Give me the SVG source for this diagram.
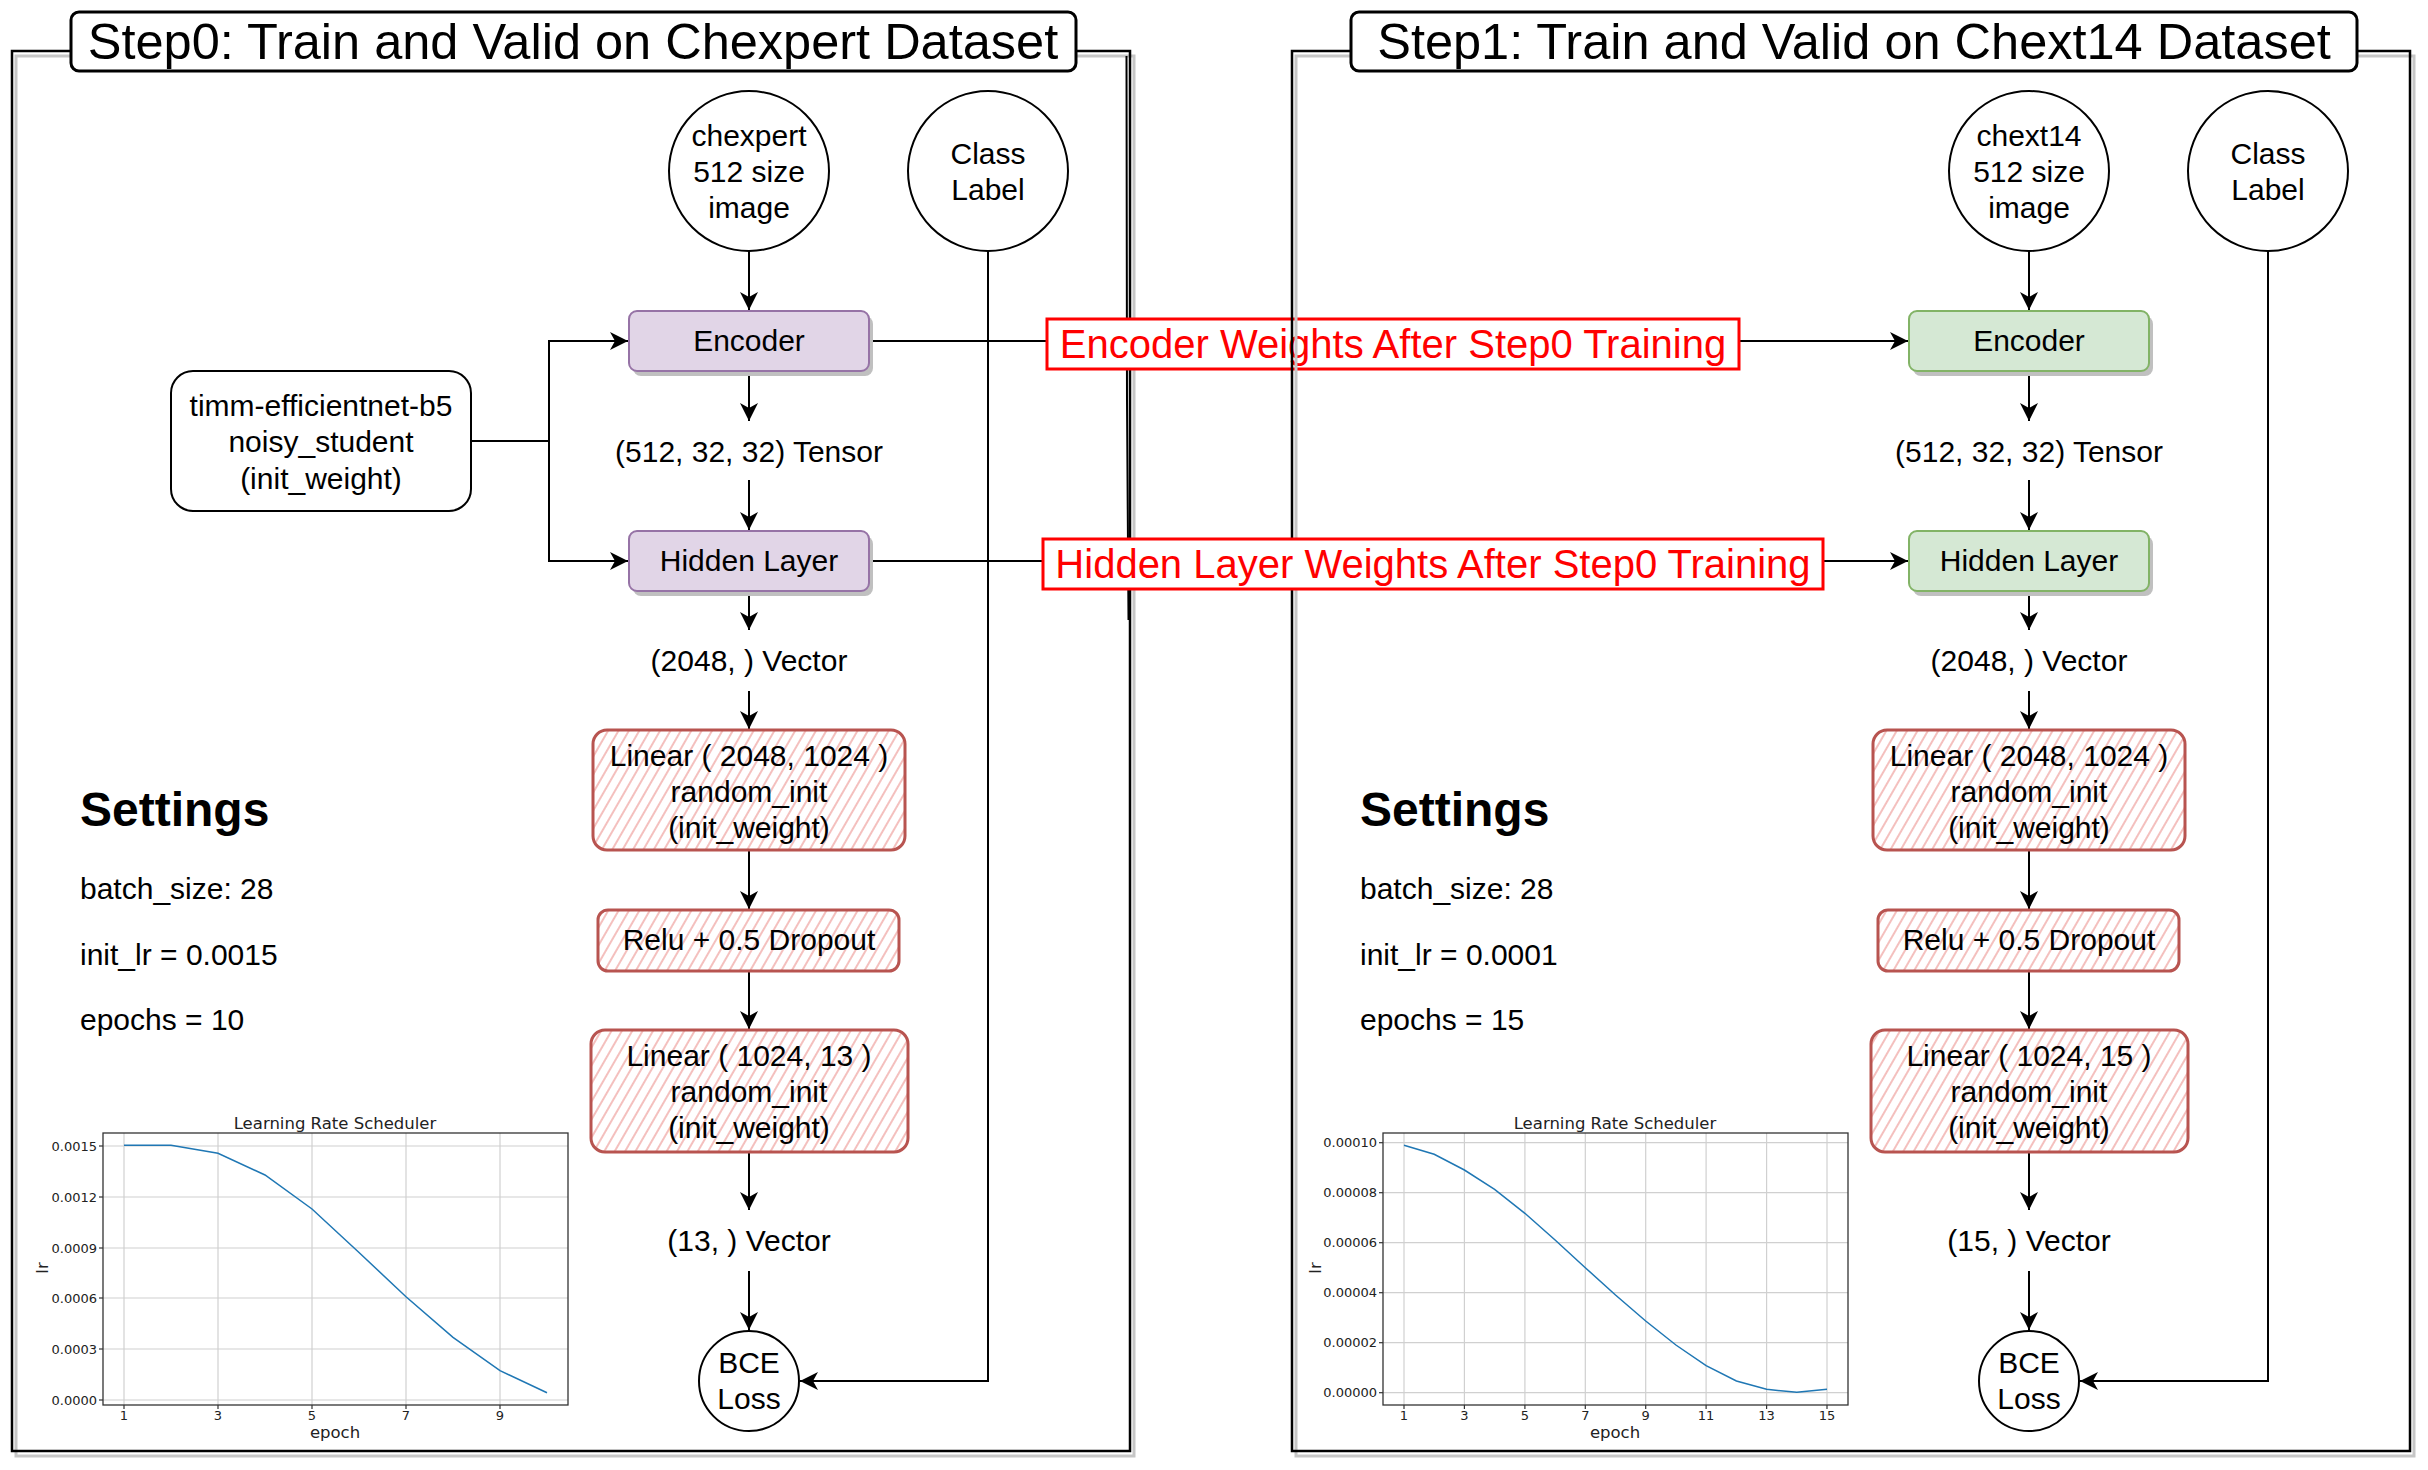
<svg xmlns="http://www.w3.org/2000/svg" width="2428" height="1470" viewBox="0 0 2428 1470">
<defs>
<style>
.f{font-family:"Liberation Sans",Arial,Helvetica,sans-serif;}
.n{font-family:"Liberation Sans",Arial,Helvetica,sans-serif;font-size:30px;fill:#000;text-anchor:middle;}
.s{font-family:"Liberation Sans",Arial,Helvetica,sans-serif;font-size:30px;fill:#000;}
.h{font-family:"Liberation Sans",Arial,Helvetica,sans-serif;font-size:48px;font-weight:bold;fill:#000;}
.ttl{font-family:"Liberation Sans",Arial,Helvetica,sans-serif;font-size:50.5px;fill:#000;text-anchor:middle;}
.red{font-family:"Liberation Sans",Arial,Helvetica,sans-serif;font-size:40px;fill:#ff0000;text-anchor:middle;}
.redbox{fill:#fff;stroke:#ff0000;stroke-width:3;}
.frame{fill:none;stroke:#000;stroke-width:2.5;}
.fshadow{fill:none;stroke:#c6c6c6;stroke-width:3;}
.titlebox{fill:#fff;stroke:#000;stroke-width:3;}
.circ{fill:#fff;stroke:#000;stroke-width:2;}
.purple{fill:#e1d5e7;stroke:#9673a6;stroke-width:2;}
.green{fill:#d5e8d4;stroke:#82b366;stroke-width:2;}
.shadow{fill:#c0c0c0;stroke:none;}
.plain{fill:#fff;stroke:#000;stroke-width:2;}
.hatch{fill:url(#hatch);stroke:#b85450;stroke-width:3;}
.edge{fill:none;stroke:#000;stroke-width:2;}
.arr{fill:none;stroke:#000;stroke-width:2;marker-end:url(#ah);}
.grid{stroke:#d0d0d0;stroke-width:1.2;}
.spine{fill:none;stroke:#333;stroke-width:1.3;}
.tick{stroke:#333;stroke-width:1.2;}
.ct{font-family:"DejaVu Sans",Verdana,sans-serif;font-size:13px;fill:#222;}
.cl{font-family:"DejaVu Sans",Verdana,sans-serif;font-size:16.5px;fill:#222;text-anchor:middle;}
.curve{fill:none;stroke:#1f77b4;stroke-width:1.5;}
</style>
<pattern id="hatch" patternUnits="userSpaceOnUse" width="9" height="9" patternTransform="rotate(30)">
<rect width="9" height="9" fill="#fff"/>
<line x1="1" y1="0" x2="1" y2="9" stroke="#f2b0ae" stroke-width="1.6"/>
</pattern>
<marker id="ah" markerUnits="userSpaceOnUse" markerWidth="18" markerHeight="18" refX="18" refY="9" orient="auto">
<path d="M0,0 L18,9 L0,18 L5,9 Z" fill="#000"/>
</marker>
</defs>
<rect width="2428" height="1470" fill="#fff"/>

<!-- Left frame -->
<g id="frame-step0">
<rect class="fshadow" x="16" y="56" width="1118" height="1400"/>
<rect class="frame" x="12" y="51" width="1118" height="1400"/>
<path class="edge" d="M1126.5,56 L1127,400 L1128.5,620"/>
<rect class="titlebox" x="71" y="12" width="1005" height="59" rx="8"/>
<text class="ttl" x="573" y="59">Step0: Train and Valid on Chexpert Dataset</text>
</g>

<!-- Connectors -->
<g id="connectors">
<path class="arr" d="M749,251 V310"/>
<path class="arr" d="M471,441 H549 V341 H628"/>
<path class="arr" d="M549,441 V561 H628"/>
<path class="arr" d="M749,371 V421"/>
<path class="arr" d="M749,480 V530"/>
<path class="arr" d="M749,591 V630"/>
<path class="arr" d="M749,691 V729"/>
<path class="arr" d="M749,850 V909"/>
<path class="arr" d="M749,971 V1029"/>
<path class="arr" d="M749,1152 V1210"/>
<path class="arr" d="M749,1271 V1330"/>
<path class="arr" d="M988,251 V1381 H800"/>
<path class="arr" d="M869,341 H1908"/>
<path class="arr" d="M869,561 H1908"/>
<path class="arr" d="M2029,251 V310"/>
<path class="arr" d="M2029,371 V421"/>
<path class="arr" d="M2029,480 V530"/>
<path class="arr" d="M2029,591 V630"/>
<path class="arr" d="M2029,691 V729"/>
<path class="arr" d="M2029,850 V909"/>
<path class="arr" d="M2029,971 V1029"/>
<path class="arr" d="M2029,1152 V1210"/>
<path class="arr" d="M2029,1271 V1330"/>
<path class="arr" d="M2268,251 V1381 H2080"/>
</g>

<g id="label-encoder-weights">
<rect class="redbox" x="1047" y="319" width="692" height="50"/>
<text class="red" x="1393" y="358">Encoder Weights After Step0 Training</text>
</g>

<!-- Right frame -->
<g id="frame-step1">
<rect class="fshadow" x="1296" y="56" width="1118" height="1400"/>
<rect class="frame" x="1292" y="51" width="1118" height="1400"/>
<rect class="titlebox" x="1351" y="12" width="1006" height="59" rx="8"/>
<text class="ttl" x="1854" y="59">Step1: Train and Valid on Chext14 Dataset</text>
</g>

<g id="label-hidden-weights">
<rect class="redbox" x="1043" y="539" width="780" height="50"/>
<text class="red" x="1433" y="578">Hidden Layer Weights After Step0 Training</text>
</g>

<!-- Left nodes -->
<g id="chexpert-image">
<circle class="circ" cx="749" cy="171" r="80"/>
<text class="n" x="749" y="146">chexpert</text>
<text class="n" x="749" y="182">512 size</text>
<text class="n" x="749" y="218">image</text>
</g>
<g id="class-label-0">
<circle class="circ" cx="988" cy="171" r="80"/>
<text class="n" x="988" y="164">Class</text>
<text class="n" x="988" y="200">Label</text>
</g>
<g id="encoder-0">
<rect class="shadow" x="633" y="316" width="240" height="60" rx="8"/>
<rect class="purple" x="629" y="311" width="240" height="60" rx="8"/>
<text class="n" x="749" y="351">Encoder</text>
</g>
<g id="timm-init">
<rect class="plain" x="171" y="371" width="300" height="140" rx="22"/>
<text class="n" x="321" y="416">timm-efficientnet-b5</text>
<text class="n" x="321" y="452">noisy_student</text>
<text class="n" x="321" y="489">(init_weight)</text>
</g>
<g id="tensor-0">
<text class="n" x="749" y="462">(512, 32, 32) Tensor</text>
</g>
<g id="hidden-0">
<rect class="shadow" x="633" y="536" width="240" height="60" rx="8"/>
<rect class="purple" x="629" y="531" width="240" height="60" rx="8"/>
<text class="n" x="749" y="571">Hidden Layer</text>
</g>
<g id="vector2048-0">
<text class="n" x="749" y="671">(2048, ) Vector</text>
</g>
<g id="linear1-0">
<rect class="hatch" x="593" y="730" width="312" height="120" rx="14"/>
<text class="n" x="749" y="766">Linear ( 2048, 1024 )</text>
<text class="n" x="749" y="802">random_init</text>
<text class="n" x="749" y="838">(init_weight)</text>
</g>
<g id="relu-0">
<rect class="hatch" x="598" y="910" width="301" height="61" rx="10"/>
<text class="n" x="749" y="950">Relu + 0.5 Dropout</text>
</g>
<g id="linear2-0">
<rect class="hatch" x="591" y="1030" width="317" height="122" rx="14"/>
<text class="n" x="749" y="1066">Linear ( 1024, 13 )</text>
<text class="n" x="749" y="1102">random_init</text>
<text class="n" x="749" y="1138">(init_weight)</text>
</g>
<g id="vector13">
<text class="n" x="749" y="1251">(13, ) Vector</text>
</g>
<g id="bce-0">
<circle class="circ" cx="749" cy="1381" r="50"/>
<text class="n" x="749" y="1373">BCE</text>
<text class="n" x="749" y="1409">Loss</text>
</g>
<g id="settings-0">
<text class="h" x="80" y="826">Settings</text>
<text class="s" x="80" y="899">batch_size: 28</text>
<text class="s" x="80" y="965">init_lr = 0.0015</text>
<text class="s" x="80" y="1030">epochs = 10</text>
</g>

<!-- Left chart -->
<g id="lr-chart-0">
<text class="cl" x="335" y="1129">Learning Rate Scheduler</text>
<g class="grid">
<line x1="124" y1="1133" x2="124" y2="1405"/><line x1="218" y1="1133" x2="218" y2="1405"/><line x1="312" y1="1133" x2="312" y2="1405"/><line x1="406" y1="1133" x2="406" y2="1405"/><line x1="500" y1="1133" x2="500" y2="1405"/>
<line x1="103" y1="1146" x2="568" y2="1146"/><line x1="103" y1="1197" x2="568" y2="1197"/><line x1="103" y1="1248" x2="568" y2="1248"/><line x1="103" y1="1298" x2="568" y2="1298"/><line x1="103" y1="1349" x2="568" y2="1349"/><line x1="103" y1="1400" x2="568" y2="1400"/>
</g>
<polyline class="curve" points="124,1145.3 171,1145.3 218,1153.3 265,1175 312,1209 359,1252.5 406,1296.7 453,1337.3 500,1370.7 547,1392.7"/>
<rect class="spine" x="103" y="1133" width="465" height="272"/>
<g class="tick">
<line x1="124" y1="1405" x2="124" y2="1409"/><line x1="218" y1="1405" x2="218" y2="1409"/><line x1="312" y1="1405" x2="312" y2="1409"/><line x1="406" y1="1405" x2="406" y2="1409"/><line x1="500" y1="1405" x2="500" y2="1409"/>
<line x1="99" y1="1146" x2="103" y2="1146"/><line x1="99" y1="1197" x2="103" y2="1197"/><line x1="99" y1="1248" x2="103" y2="1248"/><line x1="99" y1="1298" x2="103" y2="1298"/><line x1="99" y1="1349" x2="103" y2="1349"/><line x1="99" y1="1400" x2="103" y2="1400"/>
</g>
<g class="ct" text-anchor="end">
<text x="97" y="1150.5">0.0015</text><text x="97" y="1201.5">0.0012</text><text x="97" y="1252.5">0.0009</text><text x="97" y="1302.5">0.0006</text><text x="97" y="1353.5">0.0003</text><text x="97" y="1404.5">0.0000</text>
</g>
<g class="ct" text-anchor="middle">
<text x="124" y="1420">1</text><text x="218" y="1420">3</text><text x="312" y="1420">5</text><text x="406" y="1420">7</text><text x="500" y="1420">9</text>
</g>
<text class="cl" x="335" y="1438">epoch</text>
<text class="cl" transform="translate(48,1268) rotate(-90)">lr</text>
</g>

<!-- Right nodes -->
<g id="chext14-image">
<circle class="circ" cx="2029" cy="171" r="80"/>
<text class="n" x="2029" y="146">chext14</text>
<text class="n" x="2029" y="182">512 size</text>
<text class="n" x="2029" y="218">image</text>
</g>
<g id="class-label-1">
<circle class="circ" cx="2268" cy="171" r="80"/>
<text class="n" x="2268" y="164">Class</text>
<text class="n" x="2268" y="200">Label</text>
</g>
<g id="encoder-1">
<rect class="shadow" x="1913" y="316" width="240" height="60" rx="8"/>
<rect class="green" x="1909" y="311" width="240" height="60" rx="8"/>
<text class="n" x="2029" y="351">Encoder</text>
</g>
<g id="tensor-1">
<text class="n" x="2029" y="462">(512, 32, 32) Tensor</text>
</g>
<g id="hidden-1">
<rect class="shadow" x="1913" y="536" width="240" height="60" rx="8"/>
<rect class="green" x="1909" y="531" width="240" height="60" rx="8"/>
<text class="n" x="2029" y="571">Hidden Layer</text>
</g>
<g id="vector2048-1">
<text class="n" x="2029" y="671">(2048, ) Vector</text>
</g>
<g id="linear1-1">
<rect class="hatch" x="1873" y="730" width="312" height="120" rx="14"/>
<text class="n" x="2029" y="766">Linear ( 2048, 1024 )</text>
<text class="n" x="2029" y="802">random_init</text>
<text class="n" x="2029" y="838">(init_weight)</text>
</g>
<g id="relu-1">
<rect class="hatch" x="1878" y="910" width="301" height="61" rx="10"/>
<text class="n" x="2029" y="950">Relu + 0.5 Dropout</text>
</g>
<g id="linear2-1">
<rect class="hatch" x="1871" y="1030" width="317" height="122" rx="14"/>
<text class="n" x="2029" y="1066">Linear ( 1024, 15 )</text>
<text class="n" x="2029" y="1102">random_init</text>
<text class="n" x="2029" y="1138">(init_weight)</text>
</g>
<g id="vector15">
<text class="n" x="2029" y="1251">(15, ) Vector</text>
</g>
<g id="bce-1">
<circle class="circ" cx="2029" cy="1381" r="50"/>
<text class="n" x="2029" y="1373">BCE</text>
<text class="n" x="2029" y="1409">Loss</text>
</g>
<g id="settings-1">
<text class="h" x="1360" y="826">Settings</text>
<text class="s" x="1360" y="899">batch_size: 28</text>
<text class="s" x="1360" y="965">init_lr = 0.0001</text>
<text class="s" x="1360" y="1030">epochs = 15</text>
</g>

<!-- Right chart -->
<g id="lr-chart-1">
<text class="cl" x="1615" y="1129">Learning Rate Scheduler</text>
<g class="grid">
<line x1="1404" y1="1133" x2="1404" y2="1405"/><line x1="1464.4" y1="1133" x2="1464.4" y2="1405"/><line x1="1524.9" y1="1133" x2="1524.9" y2="1405"/><line x1="1585.3" y1="1133" x2="1585.3" y2="1405"/><line x1="1645.7" y1="1133" x2="1645.7" y2="1405"/><line x1="1706.1" y1="1133" x2="1706.1" y2="1405"/><line x1="1766.6" y1="1133" x2="1766.6" y2="1405"/><line x1="1827" y1="1133" x2="1827" y2="1405"/>
<line x1="1383" y1="1142.7" x2="1848" y2="1142.7"/><line x1="1383" y1="1192.7" x2="1848" y2="1192.7"/><line x1="1383" y1="1242.7" x2="1848" y2="1242.7"/><line x1="1383" y1="1292.7" x2="1848" y2="1292.7"/><line x1="1383" y1="1342.7" x2="1848" y2="1342.7"/><line x1="1383" y1="1392.7" x2="1848" y2="1392.7"/>
</g>
<polyline class="curve" points="1404,1145.3 1434.2,1154.3 1464.4,1170 1494.6,1189.3 1524.9,1213.3 1555.1,1240 1585.3,1267.7 1615.5,1295 1645.7,1321 1675.9,1345 1706.1,1365.7 1736.4,1381 1766.6,1389.3 1796.8,1392.3 1827,1389.3"/>
<rect class="spine" x="1383" y="1133" width="465" height="272"/>
<g class="tick">
<line x1="1404" y1="1405" x2="1404" y2="1409"/><line x1="1464.4" y1="1405" x2="1464.4" y2="1409"/><line x1="1524.9" y1="1405" x2="1524.9" y2="1409"/><line x1="1585.3" y1="1405" x2="1585.3" y2="1409"/><line x1="1645.7" y1="1405" x2="1645.7" y2="1409"/><line x1="1706.1" y1="1405" x2="1706.1" y2="1409"/><line x1="1766.6" y1="1405" x2="1766.6" y2="1409"/><line x1="1827" y1="1405" x2="1827" y2="1409"/>
<line x1="1379" y1="1142.7" x2="1383" y2="1142.7"/><line x1="1379" y1="1192.7" x2="1383" y2="1192.7"/><line x1="1379" y1="1242.7" x2="1383" y2="1242.7"/><line x1="1379" y1="1292.7" x2="1383" y2="1292.7"/><line x1="1379" y1="1342.7" x2="1383" y2="1342.7"/><line x1="1379" y1="1392.7" x2="1383" y2="1392.7"/>
</g>
<g class="ct" text-anchor="end">
<text x="1377" y="1147.2">0.00010</text><text x="1377" y="1197.2">0.00008</text><text x="1377" y="1247.2">0.00006</text><text x="1377" y="1297.2">0.00004</text><text x="1377" y="1347.2">0.00002</text><text x="1377" y="1397.2">0.00000</text>
</g>
<g class="ct" text-anchor="middle">
<text x="1404" y="1420">1</text><text x="1464.4" y="1420">3</text><text x="1524.9" y="1420">5</text><text x="1585.3" y="1420">7</text><text x="1645.7" y="1420">9</text><text x="1706.1" y="1420">11</text><text x="1766.6" y="1420">13</text><text x="1827" y="1420">15</text>
</g>
<text class="cl" x="1615" y="1438">epoch</text>
<text class="cl" transform="translate(1321,1268) rotate(-90)">lr</text>
</g>
</svg>
